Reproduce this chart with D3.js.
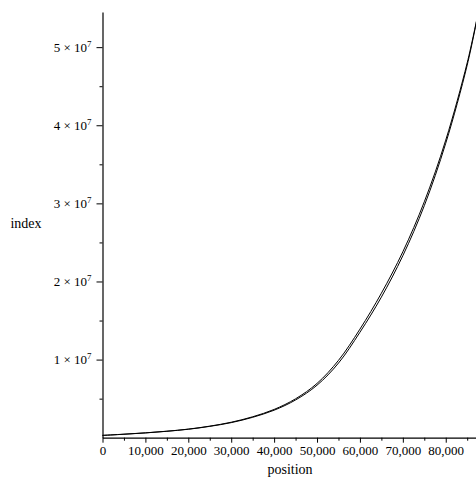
<!DOCTYPE html>
<html>
<head>
<meta charset="utf-8">
<script src="https://cdn.jsdelivr.net/npm/d3@7"></script>
<style>
  body { margin: 0; background: #fff; }
</style>
</head>
<body>
<div id="vis"></div>
<script>
// constants for plot design
const FRAME_WIDTH = 476;
const FRAME_HEIGHT = 477;
const MARGINS = {left: 102.5, right: -1.5, top: 12, bottom: 39.3};
const FONT = "Liberation Serif";

const VIS_WIDTH = FRAME_WIDTH - MARGINS.left - MARGINS.right;
const VIS_HEIGHT = FRAME_HEIGHT - MARGINS.top - MARGINS.bottom;

// data (index in millions)
const positions = [0, 5000, 10000, 15000, 20000, 25000, 30000, 35000, 40000, 45000,
                   50000, 55000, 60000, 65000, 70000, 75000, 80000, 85000, 87400];
const indexA = [0.30, 0.45, 0.62, 0.83, 1.10, 1.48, 1.98, 2.68, 3.62, 4.98,
                6.95, 9.9, 13.9, 18.5, 23.8, 30.2, 38.1, 48.0, 54.0];
const indexB = [0.29, 0.44, 0.61, 0.82, 1.08, 1.45, 1.93, 2.61, 3.52, 4.83,
                6.72, 9.55, 13.5, 18.0, 23.3, 29.7, 37.7, 47.7, 53.9];

const xMajor = [0, 10000, 20000, 30000, 40000, 50000, 60000, 70000, 80000];
const xMinor = [5000, 15000, 25000, 35000, 45000, 55000, 65000, 75000, 85000];
const yMajor = [1e7, 2e7, 3e7, 4e7, 5e7];
const yMinor = [0.5e7, 1.5e7, 2.5e7, 3.5e7, 4.5e7];

const X_MAX = 87400;
const Y_MAX = 5.45e7;

const SVG = d3.select("#vis")
              .append("svg")
                .attr("width", FRAME_WIDTH)
                .attr("height", FRAME_HEIGHT)
                .attr("font-family", FONT);

const xScale = d3.scaleLinear()
                 .domain([0, X_MAX])
                 .range([0, VIS_WIDTH]);

const yScale = d3.scaleLinear()
                 .domain([0, Y_MAX])
                 .range([VIS_HEIGHT, 0]);

const plot = SVG.append("g")
                .attr("transform", "translate(" + MARGINS.left + "," + MARGINS.top + ")");

// x axis, major then minor ticks
const xAxis = plot.append("g")
    .attr("transform", "translate(0," + VIS_HEIGHT + ")")
    .call(d3.axisBottom(xScale).tickValues(xMajor).tickSize(5).tickSizeOuter(0)
            .tickFormat(d3.format(",")))
    .attr("font-family", FONT)
    .attr("font-size", "13px");
xAxis.select(".domain").attr("stroke-width", 1.2);
xAxis.selectAll("text").attr("y", 8).attr("dy", "0.75em").attr("fill", "#000");

plot.append("g")
    .attr("transform", "translate(0," + VIS_HEIGHT + ")")
    .call(d3.axisBottom(xScale).tickValues(xMinor).tickSize(3).tickFormat(""))
    .select(".domain").remove();

// y axis
const yAxis = plot.append("g")
    .call(d3.axisLeft(yScale).tickValues(yMajor).tickSize(6).tickSizeOuter(0).tickFormat(""));
yAxis.select(".domain").attr("stroke-width", 1.2);

plot.append("g")
    .call(d3.axisLeft(yScale).tickValues(yMinor).tickSize(3).tickFormat(""))
    .select(".domain").remove();

// y labels written as "n × 10^7"
const yLab = plot.append("g")
    .selectAll("text")
    .data(yMajor)
    .enter()
    .append("text")
      .attr("x", -11)
      .attr("y", (d) => yScale(d) + 4.5)
      .attr("text-anchor", "end")
      .attr("font-family", FONT)
      .attr("font-size", "13px");
yLab.append("tspan").text((d) => (d / 1e7) + " \u00d7 10");
yLab.append("tspan").attr("font-size", "9px").attr("dy", "-5").text("7");

// the two curves
const rowsA = positions.map((p, i) => ({x: p, y: indexA[i] * 1e6}));
const rowsB = positions.map((p, i) => ({x: p, y: indexB[i] * 1e6}));

const line = d3.line()
               .x((d) => xScale(d.x))
               .y((d) => yScale(d.y))
               .curve(d3.curveCatmullRom);

[rowsA, rowsB].forEach((rows) => {
  plot.append("path")
      .datum(rows)
      .attr("d", line)
      .attr("fill", "none")
      .attr("stroke", "#000")
      .attr("stroke-width", 1);
});

// axis titles
SVG.append("text")
   .attr("x", 26)
   .attr("y", 228)
   .attr("text-anchor", "middle")
   .attr("font-family", FONT)
   .attr("font-size", "14px")
   .text("index");

SVG.append("text")
   .attr("x", MARGINS.left + VIS_WIDTH / 2)
   .attr("y", 474)
   .attr("text-anchor", "middle")
   .attr("font-family", FONT)
   .attr("font-size", "14px")
   .text("position");
</script>
</body>
</html>
